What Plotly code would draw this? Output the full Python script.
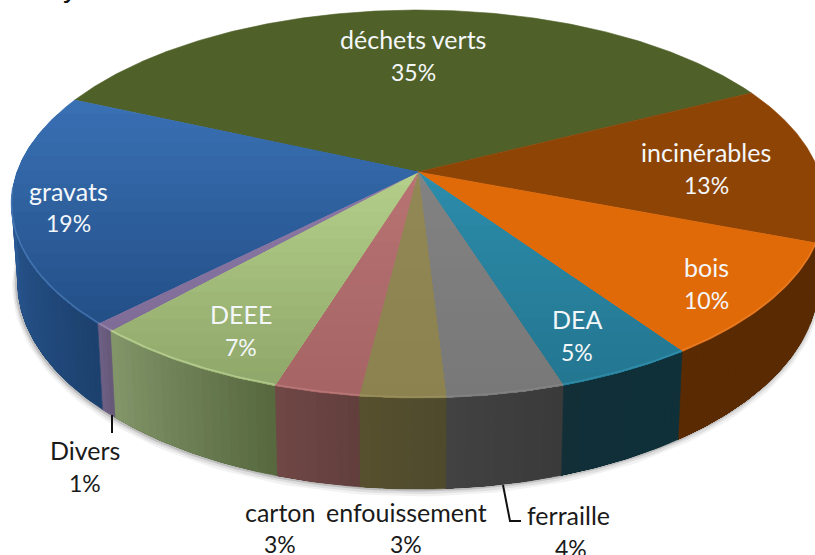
import numpy as np
import plotly.graph_objects as go

# ---------- data ----------
categories = ["déchets verts", "incinérables", "bois", "DEA", "ferraille",
              "enfouissement", "carton", "DEEE", "Divers", "gravats"]
values = [35.9, 13.2, 9.6, 4.7, 4.0, 2.9, 2.9, 6.9, 0.7, 19.2]
percent_labels = ["35%", "13%", "10%", "5%", "4%", "3%", "3%", "7%", "1%", "19%"]

# ---------- styling ----------
top_colors = [("#4f6028", "#4f6028"), ("#8e4405", "#8e4405"), ("#e06a08", "#e06a08"),
              ("#2c8cab", "#237690"), ("#828282", "#787878"), ("#918855", "#8b8250"),
              ("#b87272", "#a56464"), ("#b4cf8a", "#8fa76a"), ("#8c7aa6", "#7f6d98"),
              ("#3970b4", "#234f87")]
wall_colors = [("#5a2b03", "#5a2b03"), ("#5a2b03", "#5a2b03"), ("#5a2b03", "#5a2b03"),
               ("#0f3039", "#122f38"), ("#3a3a3a", "#424242"), ("#4f4a2c", "#56502f"),
               ("#613e3c", "#704846"), ("#57683f", "#83966a"), ("#665878", "#6e6085"),
               ("#1c416e", "#2b5a96")]
rim_colors = ["#4f6028", "#a85a18", "#f08a3a", "#3a9cba", "#8c8c8c", "#a39a68",
              "#c98a8a", "#cfe3a8", "#a595bd", "#5a8ac4"]
label_xy = {"déchets verts": ((413, 39), (413, 72)),
            "incinérables": ((706, 152), (706, 185)),
            "bois": ((706, 267), (706, 300)),
            "DEA": ((577, 319), (577, 352)),
            "ferraille": ((568, 515), (571, 548)),
            "enfouissement": ((406, 512), (406, 544)),
            "carton": ((280, 512), (280, 544)),
            "DEEE": ((241, 314), (241, 347)),
            "Divers": ((85, 450), (85, 483)),
            "gravats": ((68, 191), (68, 223))}
dark_labels = {"Divers", "carton", "enfouissement", "ferraille"}
FONT = "Lato"
NAME_SIZE = 25
PCT_SIZE = 23
CX, CY, RX, RY, K = 418.0, 172.0, 401.0, 188.7, 0.165
START = -66.0
WALL_H = 76.0
WALL_SCALE = 0.985


def rim(theta_deg, radius=1.0):
    t = np.radians(theta_deg)
    u, v = radius * np.sin(t), radius * np.cos(t)
    w = 1 + K * v
    return CX + RX * u / w, CY - RY * v / w


def low_rim(theta_deg):
    t = np.radians(theta_deg)
    u, v = np.sin(t), np.cos(t)
    w = 1 + K * v
    return CX + WALL_SCALE * RX * u / w, CY - RY * v / w + WALL_H / w


def hex_rgb(h):
    return np.array([int(h[i:i + 2], 16) for i in (1, 3, 5)], float)


def mix(a, b, t):
    c = hex_rgb(a) * (1 - t) + hex_rgb(b) * t
    return "rgb(%d,%d,%d)" % tuple(np.round(c).astype(int))


def clip_below(poly, y0):
    out = []
    for i in range(len(poly)):
        a, b = poly[i], poly[(i + 1) % len(poly)]
        ia, ib = a[1] >= y0, b[1] >= y0
        if ia:
            out.append(a)
        if ia != ib:
            s = (y0 - a[1]) / (b[1] - a[1])
            out.append((a[0] + s * (b[0] - a[0]), y0))
    return out


fig = go.Figure()


def add_poly(poly, color, edge=0.0):
    xs = [p[0] for p in poly] + [poly[0][0]]
    ys = [p[1] for p in poly] + [poly[0][1]]
    fig.add_trace(go.Scatter(x=xs, y=ys, mode="lines", fill="toself", fillcolor=color,
                             line=dict(color=color, width=edge),
                             hoverinfo="skip", showlegend=False))


fractions = np.array(values) / sum(values)
edges = START + 360 * np.concatenate([[0], np.cumsum(fractions)])

# soft shadow under the base
sh = np.linspace(92, 268, 120)
for width, alpha, off in [(9, 0.05, 3), (6, 0.08, 2), (3, 0.14, 1)]:
    pts = np.array([low_rim(a) for a in sh])
    fig.add_trace(go.Scatter(x=pts[:, 0] - 1, y=pts[:, 1] + off, mode="lines",
                             line=dict(color="rgba(0,0,0,%g)" % alpha, width=width),
                             hoverinfo="skip", showlegend=False))

# side walls: each strip paints from its own start to the end of the slice, so no seams
for i in range(len(values)):
    a0, a1 = max(edges[i], 95.0), min(edges[i + 1], 265.0)
    if a1 <= a0:
        continue
    n = max(3, int((a1 - a0) / 1.2))
    steps = np.linspace(a0, a1, n + 1)
    for j in range(n):
        arc = np.linspace(steps[j], a1, max(4, int((a1 - steps[j]) * 2)))
        poly = [rim(a) for a in arc] + [low_rim(a) for a in arc[::-1]]
        add_poly(poly, mix(wall_colors[i][0], wall_colors[i][1], (j + 0.5) / n),
                 edge=0.6 if j == 0 else 0.0)

# top faces: same painter's approach for the vertical gradient
for i in range(len(values)):
    arc = np.linspace(edges[i], edges[i + 1], max(6, int((edges[i + 1] - edges[i]) * 2)))
    poly = [(CX, CY)] + [rim(a) for a in arc]
    c0, c1 = top_colors[i]
    add_poly(poly, mix(c0, c1, 0.0), edge=0.6)
    if c0 == c1:
        continue
    ys = [p[1] for p in poly]
    lo, hi = min(ys), max(ys)
    bands = 16
    for b in range(1, bands):
        part = clip_below(poly, lo + (hi - lo) * b / bands)
        if len(part) >= 3:
            add_poly(part, mix(c0, c1, (b + 0.5) / bands))

# light rim along the front of the top face
for i in range(len(values)):
    a0, a1 = max(edges[i], 100.0), min(edges[i + 1], 265.0)
    if a1 <= a0:
        continue
    pts = np.array([rim(a) for a in np.linspace(a0, a1, 40)])
    fig.add_trace(go.Scatter(x=pts[:, 0], y=pts[:, 1] - 1, mode="lines", opacity=0.55,
                             line=dict(color=rim_colors[i], width=1.6),
                             hoverinfo="skip", showlegend=False))

# leader lines
for lx, ly in [([112, 112], [415, 433]), ([503, 510, 521], [485, 521, 521])]:
    fig.add_trace(go.Scatter(x=lx, y=ly, mode="lines", line=dict(color="#111111", width=2),
                             hoverinfo="skip", showlegend=False))

# data labels
annotations = []
for name, pct in zip(categories, percent_labels):
    color = "#1a1a1a" if name in dark_labels else "#f4f7fa"
    (x1, y1), (x2, y2) = label_xy[name]
    for text, x, y, size in [(name, x1, y1, NAME_SIZE), (pct, x2, y2, PCT_SIZE)]:
        annotations.append(dict(x=x, y=y, text=text, xref="x", yref="y", showarrow=False,
                                xanchor="center", yanchor="middle",
                                font=dict(family=FONT, size=size, color=color)))

# tail of the cropped title at the very top of the picture
annotations.append(dict(x=70, y=5, text="y", xref="x", yref="y", showarrow=False,
                        xanchor="center", yanchor="bottom",
                        font=dict(family="Liberation Sans", size=30, color="#111111")))

fig.update_layout(
    width=815, height=555, autosize=False,
    margin=dict(l=0, r=0, t=0, b=0),
    paper_bgcolor="white", plot_bgcolor="white", showlegend=False,
    xaxis=dict(range=[0, 815], visible=False, fixedrange=True),
    yaxis=dict(range=[555, 0], visible=False, fixedrange=True),
    annotations=annotations,
)
fig.write_html("out.html", config={"displayModeBar": False},
               post_script="document.body.style.margin='0';document.body.style.overflow='hidden';")
